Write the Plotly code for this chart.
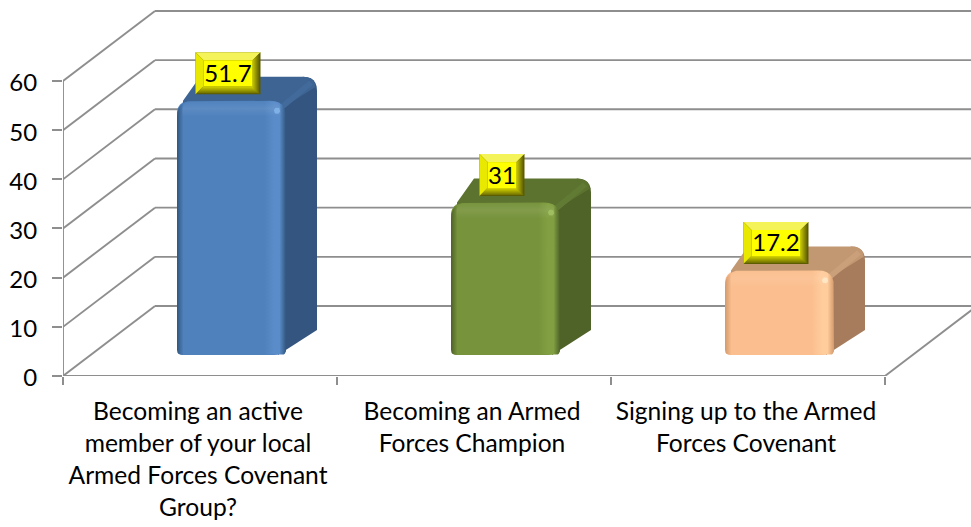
import plotly.graph_objects as go

categories = ["Becoming an active<br>member of your local<br>Armed Forces Covenant<br>Group?",
              "Becoming an Armed<br>Forces Champion",
              "Signing up to the Armed<br>Forces Covenant"]
values = [51.7, 31, 17.2]
value_labels = ["51.7", "31", "17.2"]
y_ticks = [0, 10, 20, 30, 40, 50, 60]
x_boundaries = [-0.5, 0.5, 1.5, 2.5]

front_mid = ["#4f81bd", "#77933c", "#fbbf8f"]
front_dark = ["#31567f", "#4e6228", "#d49a6c"]
front_light = ["#5a8cc9", "#82a042", "#ffcc9c"]
top_col = ["#3d6492", "#5c7330", "#c29872"]
side_col = ["#34557f", "#4f6228", "#a67c5c"]
ridge_col = ["#426b9c", "#627b34", "#c9a07a"]
spot_col = ["#7fb0e6", "#9fbe60", "#ffe6c4"]
GRID = "#8e8e8e"
FONT = "Lato"
FS = 24.6
FS_NUM = 24

W, H = 971, 527
L, T, B = 63, 5, 151
PX_X = 274.0
PX_Y = 4.917
x_end = -0.5 + (W - L) / PX_X
y_top = (H - B - T) / PX_Y


def ux(p):
    return p / PX_X


def uy(p):
    return p / PX_Y


WALL_DX, WALL_DY = ux(92), uy(70)
BAR_SHIFT = ux(31.5)
BAR_W = 109
FLOOR = uy(21)
DEPTH_X, DEPTH_Y = 31, 24

shapes = []


def seg(x0, y0, x1, y1):
    shapes.append(dict(type="line", xref="x", yref="y", x0=x0, y0=y0, x1=x1, y1=y1,
                       layer="below", line=dict(color=GRID, width=1.9)))


for t in y_ticks:
    seg(-0.5, t, -0.5 + WALL_DX, t + WALL_DY)
    seg(-0.5 + WALL_DX, t + WALL_DY, x_end + 1, t + WALL_DY)
seg(-0.5, 0, -0.5, y_ticks[-1])
seg(-0.5, 0, x_boundaries[-1], 0)
seg(x_boundaries[-1], 0, x_boundaries[-1] + WALL_DX, WALL_DY)


def rounded(pts, n=6):
    """pts: (x_px, y_px, r) in px relative frame, y up. Returns smooth outline."""
    xs, ys = [], []
    m = len(pts)
    for i, (x, y, r) in enumerate(pts):
        if r <= 0:
            xs.append(x)
            ys.append(y)
            continue
        ax, ay, _ = pts[i - 1]
        bx, by, _ = pts[(i + 1) % m]
        la = ((ax - x) ** 2 + (ay - y) ** 2) ** 0.5
        lb = ((bx - x) ** 2 + (by - y) ** 2) ** 0.5
        p0 = (x + (ax - x) * r / la, y + (ay - y) * r / la)
        p2 = (x + (bx - x) * r / lb, y + (by - y) * r / lb)
        for k in range(n + 1):
            s = k / n
            xs.append((1 - s) ** 2 * p0[0] + 2 * s * (1 - s) * x + s ** 2 * p2[0])
            ys.append((1 - s) ** 2 * p0[1] + 2 * s * (1 - s) * y + s ** 2 * p2[1])
    return xs, ys


traces = []


def poly(cx, base, pts, color=None, grad=None):
    xs, ys = rounded(pts)
    kw = dict(fillcolor=color) if grad is None else dict(fillgradient=grad)
    traces.append(go.Scatter(x=[cx + ux(a) for a in xs] + [cx + ux(xs[0])],
                             y=[base + uy(b) for b in ys] + [base + uy(ys[0])],
                             mode="lines", fill="toself", line=dict(width=0),
                             hoverinfo="skip", showlegend=False, **kw))


centers = [i + BAR_SHIFT for i in range(len(values))]
hw = BAR_W / 2

for i, (c, v) in enumerate(zip(centers, values)):
    h = v * PX_Y
    dx, dy = DEPTH_X, DEPTH_Y
    # right side face
    poly(c, FLOOR, [(hw - 8, 0, 0), (hw + dx, dy + 1, 0), (hw + dx, h + dy, 14),
                    (hw + dx - 14, h + dy, 0), (hw - 14, h - 10, 0)], side_col[i])
    # top face
    poly(c, FLOOR, [(-hw + 6, h, 0), (-hw + dx - 8, h + dy, 0), (hw + dx, h + dy, 14),
                    (hw + dx - 1, h + dy - 10, 0), (hw - 2, h - 6, 0), (-hw + 6, h - 6, 0)], top_col[i])
    # soft ridge between top and side
    poly(c, FLOOR, [(hw - 6, h - 4, 0), (hw + dx - 8, h + dy - 4, 0), (hw + dx - 4, h + dy - 8, 0), (hw - 2, h - 8, 0)],
         ridge_col[i])
    # front face shading (horizontal)
    grad_h = dict(type="horizontal", colorscale=[
        [0, front_dark[i]], [0.06, front_mid[i]], [0.8, front_mid[i]],
        [0.89, front_light[i]], [0.94, front_light[i]], [1, front_dark[i]]])
    poly(c, FLOOR, [(-hw, 0, 5), (hw, 0, 5), (hw, h, 16), (-hw, h, 16)], grad=grad_h)
    # front face top rim (vertical)
    grad_v = dict(type="vertical", colorscale=[
        [0, "rgba(255,255,255,0)"], [0.55, "rgba(255,255,255,0.08)"], [1, "rgba(255,255,255,0.02)"]])
    poly(c, FLOOR, [(-hw + 5, h - 16, 0), (hw - 5, h - 16, 0), (hw - 5, h - 1, 10), (-hw + 5, h - 1, 10)], grad=grad_v)
    # highlight on the corner
    poly(c, FLOOR, [(hw - 12, h - 13, 3), (hw - 6, h - 13, 3), (hw - 6, h - 7, 3), (hw - 12, h - 7, 3)], spot_col[i])

# data label boxes
LBL_UP = 27.5
LBL_LEFT = -3.5
TEXT_DROP = 2.5
BOX_H = 21
BEVEL = 8
for c, v, s in zip(centers, values, value_labels):
    bw = 32.5 if len(s) > 2 else 22.5
    cx = c + ux(LBL_LEFT)
    cy = FLOOR + v + uy(LBL_UP)
    o, n = BOX_H, BOX_H - BEVEL
    m = bw - BEVEL
    poly(cx, cy, [(-bw, -o, 0), (bw, -o, 0), (bw, o, 0), (-bw, o, 0)], "#5c5c00")
    poly(cx, cy, [(-bw, o, 0), (bw, o, 0), (m, n, 0), (-m, n, 0)], "#f4f45a")
    poly(cx, cy, [(-bw, -o, 0), (-m, -n, 0), (-m, n, 0), (-bw, o, 0)], "#e8e800")
    poly(cx, cy, [(bw - 1, -o + 1, 0), (bw - 1, o - 1, 0), (m, n, 0), (m, -n, 0)],
         grad=dict(type="horizontal", colorscale=[[0, "#c8c800"], [1, "#5c5c00"]]))
    poly(cx, cy, [(-bw + 1, -o + 1, 0), (bw - 1, -o + 1, 0), (m, -n, 0), (-m, -n, 0)],
         grad=dict(type="vertical", colorscale=[[0, "#6e6e00"], [1, "#d8d800"]]))
    poly(cx, cy, [(-m, -n, 0), (m, -n, 0), (m, n, 0), (-m, n, 0)], "#ffff00")
    traces.append(go.Scatter(x=[cx], y=[cy - uy(TEXT_DROP)], mode="text", text=[s], textposition="middle center",
                             textfont=dict(family=FONT, size=FS_NUM, color="#000000"),
                             hoverinfo="skip", showlegend=False))

bars = go.Bar(x=centers, y=values, base=FLOOR, width=ux(BAR_W), marker=dict(color=front_mid, line=dict(width=0)),
              hoverinfo="skip", showlegend=False)

fig = go.Figure([bars] + traces)
fig.update_layout(
    width=W, height=H, margin=dict(l=L, r=0, t=T, b=B, pad=0),
    paper_bgcolor="#ffffff", plot_bgcolor="#ffffff", barcornerradius=12,
    shapes=shapes, showlegend=False,
    font=dict(family=FONT, size=FS, color="#000000"),
    xaxis=dict(range=[-0.5, x_end], tickmode="array", tickvals=[0, 1, 2], ticktext=categories,
               showgrid=False, zeroline=False, showline=False, ticks="", ticklabelstandoff=18,
               ticklabelshift=-2, tickangle=0,
               minor=dict(tickmode="array", tickvals=x_boundaries, ticks="outside", ticklen=8, tickwidth=1.9,
                          tickcolor=GRID, showgrid=False)),
    yaxis=dict(range=[0, y_top], tickmode="array", tickvals=y_ticks, showgrid=False, zeroline=False,
               showline=False, ticks="outside", ticklen=10, tickwidth=1.9, tickcolor=GRID,
               ticklabelstandoff=10, ticklabelshift=2, tickfont=dict(size=FS_NUM)),
)
# the page's default margin would push a full-window figure out of the window
fig.write_html("out.html", config={"displayModeBar": False},
               post_script="document.body.style.margin='0';document.documentElement.style.overflow='hidden';")
